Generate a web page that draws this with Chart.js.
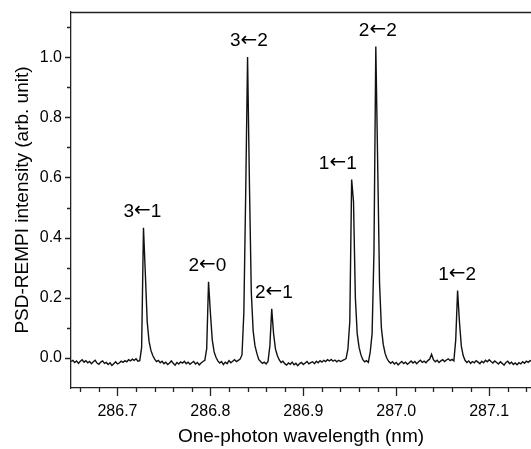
<!DOCTYPE html>
<html>
<head>
<meta charset="utf-8">
<script src="https://cdn.jsdelivr.net/npm/chart.js@4.4.0/dist/chart.umd.min.js"></script>
<style>
  body { margin: 0; background: #fff; overflow: hidden; }
  canvas { display: block; }
</style>
</head>
<body>
<canvas id="spectrum" width="531" height="449" style="width:531px;height:449px"></canvas>
<script>
// datos (espectro PSD-REMPI)
const wlStart = 286.650; // nm, primera muestra
const wlStep = 0.002;    // nm entre muestras

// intensidad (arb. unit), una fila = 10 muestras
const intensity = [
  -0.012, -0.008, -0.015, -0.010, -0.018, -0.011, -0.006, -0.014, -0.009, -0.016,
  -0.012, -0.019, -0.013, -0.008, -0.017, -0.021, -0.014, -0.010, -0.018, -0.015,
  -0.022, -0.016, -0.025, -0.019, -0.013, -0.020, -0.017, -0.011, -0.015, -0.009,
  -0.013, -0.006, -0.010, -0.004, -0.008, -0.003, -0.011, -0.009, 0.035, 0.433,
  0.280, 0.120, 0.055, 0.025, 0.008, -0.004, -0.012, -0.008, -0.016, -0.011,
  -0.019, -0.014, -0.022, -0.017, -0.010, -0.018, -0.024, -0.015, -0.020, -0.013,
  -0.017, -0.011, -0.019, -0.014, -0.021, -0.016, -0.012, -0.020, -0.015, -0.023,
  -0.017, -0.012, -0.008, 0.030, 0.253, 0.150, 0.060, 0.020, 0.002, -0.010,
  -0.017, -0.012, -0.022, -0.014, -0.019, -0.009, -0.016, -0.011, -0.006, -0.012,
  -0.008, -0.004, 0.010, 0.150, 0.550, 1.000, 0.580, 0.220, 0.090, 0.040,
  0.015, -0.005, -0.012, -0.018, -0.014, -0.020, -0.012, 0.040, 0.163, 0.080,
  0.030, 0.008, -0.006, -0.015, -0.011, -0.019, -0.024, -0.017, -0.021, -0.014,
  -0.023, -0.018, -0.026, -0.019, -0.015, -0.022, -0.017, -0.012, -0.020, -0.016,
  -0.013, -0.019, -0.011, -0.016, -0.009, -0.014, -0.008, -0.012, -0.006, -0.010,
  -0.005, -0.011, -0.007, -0.013, -0.008, -0.012, -0.009, -0.006, -0.002, 0.030,
  0.120, 0.593, 0.520, 0.200, 0.080, 0.035, 0.010, -0.006, -0.013, -0.009,
  -0.015, 0.020, 0.080, 0.350, 1.035, 0.650, 0.250, 0.100, 0.045, 0.015,
  -0.002, -0.012, -0.018, -0.013, -0.020, -0.015, -0.023, -0.017, -0.012, -0.019,
  -0.014, -0.021, -0.016, -0.010, -0.017, -0.012, -0.019, -0.013, -0.008, -0.015,
  -0.011, -0.016, -0.009, -0.004, 0.012, -0.006, -0.013, -0.008, -0.015, -0.010,
  -0.006, -0.012, -0.007, -0.003, -0.009, -0.005, -0.010, 0.060, 0.224, 0.120,
  0.040, 0.008, -0.008, -0.015, -0.010, -0.018, -0.012, -0.016, -0.009, -0.014,
  -0.019, -0.011, -0.016, -0.008, -0.013, -0.006, -0.012, -0.017, -0.010, -0.015,
  -0.020, -0.013, -0.018, -0.024, -0.015, -0.011, -0.019, -0.014, -0.022, -0.017,
  -0.023, -0.016, -0.020, -0.013, -0.018, -0.011, -0.015, -0.009, -0.012
];

// transiciones: nivel superior, nivel inferior y longitud de onda del texto
const peakUpper = ['3', '2', '3', '2', '1', '2', '1'];
const peakLower = ['1', '0', '2', '1', '1', '2', '2'];
const peakLabelWl = [286.7269, 286.7968, 286.8414, 286.8683, 286.9371, 286.9801, 287.0656];
const peakWl = [286.728, 286.798, 286.840, 286.866, 286.952, 286.978, 287.066];

// ticks de los ejes
const xMajorTicks = [286.7, 286.8, 286.9, 287.0, 287.1];
const xMinorTicks = [286.66, 286.68, 286.72, 286.74, 286.76, 286.78, 286.82, 286.84, 286.86, 286.88,
  286.92, 286.94, 286.96, 286.98, 287.02, 287.04, 287.06, 287.08, 287.12, 287.14];
const yMajorTicks = [0.0, 0.2, 0.4, 0.6, 0.8, 1.0];
const yMinorTicks = [0.1, 0.3, 0.5, 0.7, 0.9, 1.1];

const points = intensity.map((v, i) => ({ x: wlStart + i * wlStep, y: v }));

const FONT = 'Arial, "Liberation Sans", sans-serif';
const ARROW = '\u2190';

// marcas de los ejes, borde superior y etiquetas de los picos
const decorPlugin = {
  id: 'decor',
  afterDraw(chart) {
    const c = chart.ctx;
    const area = chart.chartArea;
    const xs = chart.scales.x;
    const ys = chart.scales.y;
    c.save();
    c.strokeStyle = '#222';
    c.lineWidth = 1.3;
    c.beginPath();
    c.moveTo(area.left, area.top + 0.5);
    c.lineTo(area.right, area.top + 0.5);
    xMajorTicks.forEach(v => {
      const px = Math.round(xs.getPixelForValue(v)) + 0.5;
      c.moveTo(px, area.bottom); c.lineTo(px, area.bottom + 8);
    });
    xMinorTicks.forEach(v => {
      const px = Math.round(xs.getPixelForValue(v)) + 0.5;
      c.moveTo(px, area.bottom); c.lineTo(px, area.bottom + 4);
    });
    yMajorTicks.forEach(v => {
      const py = Math.round(ys.getPixelForValue(v)) + 0.5;
      c.moveTo(area.left, py); c.lineTo(area.left - 6, py);
    });
    yMinorTicks.forEach(v => {
      const py = Math.round(ys.getPixelForValue(v)) + 0.5;
      c.moveTo(area.left, py); c.lineTo(area.left - 4, py);
    });
    c.stroke();

    // texto "n←m" encima de cada pico (flecha larga de DejaVu)
    c.fillStyle = '#000';
    c.textBaseline = 'alphabetic';
    c.textAlign = 'left';
    const digitFont = '19px ' + FONT;
    const arrowFont = '20px "DejaVu Sans"';
    peakUpper.forEach((up, k) => {
      let top = -Infinity;
      points.forEach(p => {
        if (Math.abs(p.x - peakWl[k]) < 0.004 && p.y > top) top = p.y;
      });
      c.font = digitFont;
      const wUp = c.measureText(up).width;
      const wLo = c.measureText(peakLower[k]).width;
      c.font = arrowFont;
      const wAr = c.measureText(ARROW).width;
      const total = wUp + wAr + wLo;
      let x = xs.getPixelForValue(peakLabelWl[k]) - total / 2;
      const y = ys.getPixelForValue(top) - 11;
      c.font = digitFont;
      c.fillText(up, x, y);
      x += wUp;
      c.font = arrowFont;
      c.fillText(ARROW, x, y - 0.5);
      x += wAr;
      c.font = digitFont;
      c.fillText(peakLower[k], x, y);
    });
    c.restore();
  }
};

new Chart(document.getElementById('spectrum'), {
  type: 'line',
  data: {
    datasets: [{
      data: points,
      borderColor: '#111',
      borderWidth: 1.4,
      pointRadius: 0,
      tension: 0,
      fill: false
    }]
  },
  options: {
    responsive: false,
    animation: false,
    devicePixelRatio: 1,
    layout: { padding: { top: 12, right: 0, left: 0, bottom: 0 } },
    plugins: { legend: { display: false }, tooltip: { enabled: false } },
    scales: {
      x: {
        type: 'linear',
        min: 286.65,
        max: 287.145,
        afterBuildTicks: s => { s.ticks = xMajorTicks.map(v => ({ value: v })); },
        afterFit: s => { s.height = 61; },
        grid: { display: false },
        border: { display: true, color: '#222', width: 1.3 },
        ticks: {
          autoSkip: false, maxRotation: 0, padding: 6,
          color: '#000', font: { size: 16, family: FONT },
          callback: v => v.toFixed(1)
        },
        title: {
          display: true, text: 'One-photon wavelength (nm)',
          color: '#000', font: { size: 19, family: FONT },
          padding: { top: 0, bottom: 1 }
        }
      },
      y: {
        min: -0.1,
        max: 1.15,
        afterBuildTicks: s => { s.ticks = yMajorTicks.map(v => ({ value: v })); },
        afterFit: s => { s.width = 71; },
        grid: { display: false },
        border: { display: true, color: '#222', width: 1.3 },
        ticks: {
          padding: 1,
          color: '#000', font: { size: 16, family: FONT },
          callback: v => v.toFixed(1)
        },
        title: {
          display: true, text: 'PSD-REMPI intensity (arb. unit)',
          color: '#000', font: { size: 19, family: FONT },
          padding: { top: 11, bottom: 0 }
        }
      }
    }
  },
  plugins: [decorPlugin]
});
</script>
</body>
</html>
